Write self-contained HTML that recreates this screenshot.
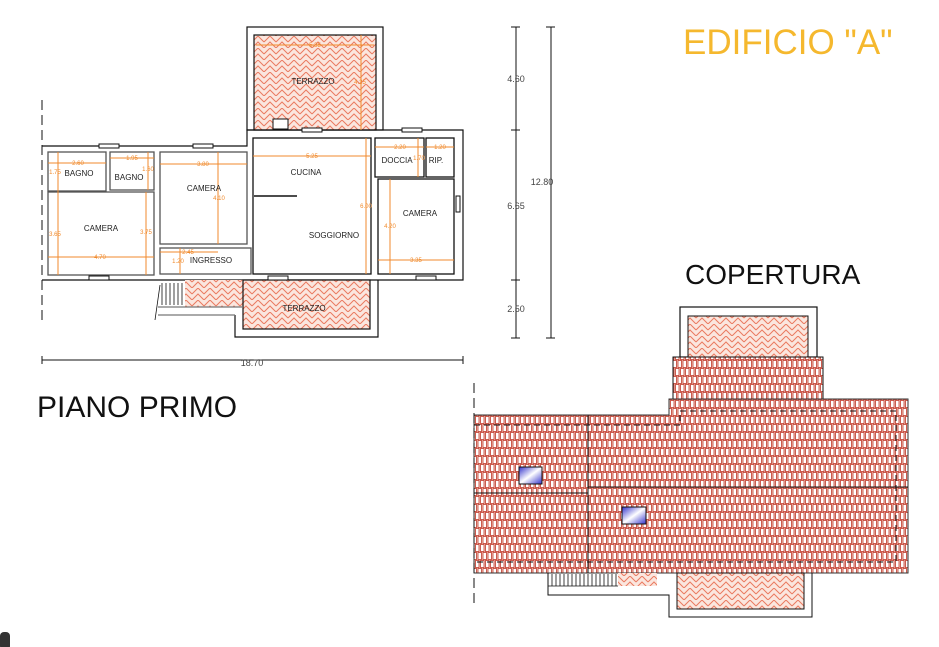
<!DOCTYPE html>
<html><head><meta charset="utf-8"><style>
html,body{margin:0;padding:0;background:#fff;width:939px;height:647px;overflow:hidden}
svg{display:block}
text{font-family:"Liberation Sans",sans-serif}
</style></head><body>
<svg width="939" height="647" viewBox="0 0 939 647" xmlns="http://www.w3.org/2000/svg">
<defs>
<pattern id="herr" width="12" height="12" patternUnits="userSpaceOnUse">
<rect width="12" height="12" fill="#fbe6de"/>
<path d="M0 6 L6 0 L12 6 M0 12 L6 6 L12 12" stroke="#ea7a60" stroke-width="1" fill="none"/>
</pattern>
<pattern id="tile" width="10" height="16" patternUnits="userSpaceOnUse">
<rect width="10" height="16" fill="#f4cfc4"/>
<rect x="0.5" y="0.5" width="3.5" height="7" fill="#fff" stroke="#c0392b" stroke-width="0.8"/>
<rect x="5.5" y="0.5" width="3.5" height="7" fill="#fff" stroke="#c0392b" stroke-width="0.8"/>
<rect x="3" y="8.5" width="3.5" height="7" fill="#fff" stroke="#c0392b" stroke-width="0.8"/>
<rect x="8" y="8.5" width="3.5" height="7" fill="#fff" stroke="#c0392b" stroke-width="0.8"/>
<rect x="-2" y="8.5" width="3.5" height="7" fill="#fff" stroke="#c0392b" stroke-width="0.8"/>
</pattern>
<linearGradient id="sky" x1="0" y1="0" x2="1" y2="1"><stop offset="0" stop-color="#3333cc"/><stop offset="0.5" stop-color="#ffffff"/><stop offset="1" stop-color="#3333cc"/></linearGradient>
</defs>

<text x="683" y="54" font-size="35" fill="#f5b82e">EDIFICIO "A"</text>
<text x="685" y="284" font-size="28" fill="#111">COPERTURA</text>
<text x="37" y="417" font-size="30" fill="#111">PIANO PRIMO</text>

<g fill="none" stroke="#111" stroke-width="1.2">
<rect x="247" y="27" width="136" height="103"/>
<rect x="254" y="35" width="122" height="95" fill="url(#herr)" stroke="#111"/>
<path d="M42 146 H247 V130 H463 V280 H42"/>
<rect x="185" y="280" width="58" height="27" fill="url(#herr)" stroke="none"/>
<path d="M235 315 V337 H378 V280"/>
<rect x="243" y="280" width="127" height="49" fill="url(#herr)" stroke="#111"/>
<path d="M158 307 H243 M158 315 H235" stroke="#777"/>
</g>
<g stroke="#111" stroke-width="0.8">
<path d="M162 283 V305 M166 283 V305 M170 283 V305 M174 283 V305 M178 283 V305 M182 283 V305 M160 285 L155 320"/>
</g>
<g fill="#fff" stroke="#555" stroke-width="1.3">
<rect x="48" y="152" width="58" height="39"/>
<rect x="110" y="152" width="44" height="38"/>
<rect x="48" y="192" width="106" height="83"/>
<rect x="160" y="152" width="87" height="92"/>
<rect x="160" y="248" width="91" height="26"/>
<rect x="253" y="138" width="118" height="136" stroke="#111"/>
<rect x="375" y="138" width="49" height="39" stroke="#111"/>
<rect x="426" y="138" width="28" height="39" stroke="#111"/>
<rect x="378" y="179" width="76" height="95" stroke="#111"/>
</g>
<path d="M254 196 H297" stroke="#111" stroke-width="1.5"/>
<g fill="#fff" stroke="#111" stroke-width="1">
<rect x="99" y="144" width="20" height="4"/><rect x="193" y="144" width="20" height="4"/>
<rect x="302" y="128" width="20" height="4"/><rect x="402" y="128" width="20" height="4"/>
<rect x="89" y="276" width="20" height="4"/><rect x="268" y="276" width="20" height="4"/>
<rect x="416" y="276" width="20" height="4"/><rect x="456" y="196" width="4" height="16"/>
<rect x="273" y="119" width="15" height="10"/>
</g>
<g stroke="#f08a2c" stroke-width="1" fill="none">
<path d="M256 45 H374 M361 35 V130 M48 163 H106 M58 152 V275 M110 158 H154 M148 152 V190 M160 164 H247 M218 152 V244 M48 257 H154 M146 192 V275 M253 156 H371 M366 138 V274 M375 147 H424 M418 138 V177 M426 147 H454 M390 179 V274 M378 260 H454 M160 252 H218 M180 248 V274"/>
</g>
<g font-size="6" fill="#f08a2c" text-anchor="middle">
<text x="315" y="47">5.35</text><text x="360" y="84">4.25</text>
<text x="78" y="165">2.60</text><text x="132" y="160">1.95</text><text x="203" y="166">3.80</text>
<text x="219" y="200">4.10</text><text x="100" y="259">4.70</text><text x="312" y="158">5.25</text>
<text x="366" y="208">6.00</text><text x="400" y="149">2.20</text><text x="440" y="149">1.20</text>
<text x="390" y="228">4.20</text><text x="416" y="262">3.35</text><text x="188" y="254">2.45</text>
<text x="55" y="236">3.65</text><text x="146" y="234">3.75</text><text x="55" y="174">1.75</text><text x="148" y="171">1.60</text><text x="178" y="263">1.20</text><text x="419" y="160">1.70</text>
</g>
<g font-size="8" fill="#222" text-anchor="middle">
<text x="313" y="84">TERRAZZO</text><text x="79" y="176">BAGNO</text><text x="129" y="180">BAGNO</text>
<text x="204" y="191">CAMERA</text><text x="101" y="231">CAMERA</text><text x="306" y="175">CUCINA</text>
<text x="334" y="238">SOGGIORNO</text><text x="211" y="263">INGRESSO</text>
<text x="397" y="163">DOCCIA</text><text x="436" y="163">RIP.</text><text x="420" y="216">CAMERA</text>
<text x="304" y="311">TERRAZZO</text>
</g>
<g stroke="#111" stroke-width="1">
<path d="M516 27 V338 M551 27 V338 M42 360 H463"/>
<path d="M511 27 H520 M511 130 H520 M511 280 H520 M511 338 H520 M546 27 H555 M546 338 H555 M42 356 V364 M463 356 V364"/>
<path d="M42 100 V325" stroke-dasharray="10 5"/>
</g>
<g font-size="9" fill="#444" text-anchor="middle">
<text x="516" y="82">4.60</text><text x="516" y="209">6.65</text><text x="516" y="312">2.50</text>
<text x="542" y="185">12.80</text><text x="252" y="366">18.70</text>
</g>

<rect x="680" y="307" width="137" height="50" fill="#fff" stroke="#111" stroke-width="1.2"/>
<rect x="688" y="316" width="120" height="41" fill="url(#herr)" stroke="#111"/>
<rect x="673" y="357" width="150" height="42" fill="url(#tile)" stroke="#111"/>
<path d="M669 399 H908 V573 H474 V415 H669 Z" fill="url(#tile)" stroke="#333" stroke-width="1"/>
<g stroke="#111" stroke-width="1" fill="none">
<path d="M588 415 V573 M474 493 H588 M588 487 H908"/>
<path d="M474 425 H680 V411 H896 V562 H474" stroke-dasharray="6 4"/>
<path d="M474 383 V605" stroke-dasharray="10 5"/>
<path d="M548 573 V595 H669 V617 H812 V573"/>
</g>
<rect x="618" y="573" width="39" height="13" fill="url(#herr)"/>
<rect x="677" y="573" width="127" height="36" fill="url(#herr)" stroke="#111"/>
<g stroke="#111" stroke-width="0.8"><path d="M552 574 V586 M556 574 V586 M560 574 V586 M564 574 V586 M568 574 V586 M572 574 V586 M576 574 V586 M580 574 V586 M584 574 V586 M588 574 V586 M592 574 V586 M596 574 V586 M600 574 V586 M604 574 V586 M608 574 V586 M612 574 V586 M616 574 V586 M548 586 H618"/></g>
<rect x="519" y="467" width="23" height="17" fill="url(#sky)" stroke="#111"/>
<rect x="622" y="507" width="24" height="17" fill="url(#sky)" stroke="#111"/>

<rect x="0" y="632" width="10" height="18" rx="4" fill="#333"/>
</svg>
</body></html>
